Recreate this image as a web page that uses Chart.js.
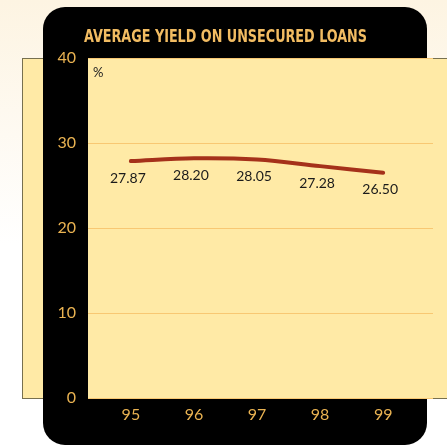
<!DOCTYPE html>
<html>
<head>
<meta charset="utf-8">
<script src="https://cdn.jsdelivr.net/npm/chart.js@4.4.0/dist/chart.umd.min.js"></script>
<style>
  html, body { margin: 0; padding: 0; background: #ffffff; }
  canvas { display: block; }
</style>
</head>
<body>
<canvas id="yieldChart" width="447" height="445"></canvas>
<script>
// Datos del gráfico
const years = [95, 96, 97, 98, 99];
const yieldValues = [27.87, 28.20, 28.05, 27.28, 26.50];
const valueLabels = ["27.87", "28.20", "28.05", "27.28", "26.50"];
const yTicks = [0, 10, 20, 30, 40];
const chartTitle = "AVERAGE YIELD ON UNSECURED LOANS";

const GOLD = "#eab352";
const PAPER = "#ffeaa6";

// Fondo, panel negro y zona amarilla del gráfico
const panelPlugin = {
    id: "panel",
    beforeDraw(chart) {
        const ctx = chart.ctx;
        const area = chart.chartArea;
        const W = chart.width, H = chart.height;
        ctx.save();

        // fondo crema que se aclara hacia abajo
        const bg = ctx.createLinearGradient(0, 0, 0, H);
        bg.addColorStop(0, "#fdf4e2");
        bg.addColorStop(0.55, "#ffffff");
        bg.addColorStop(1, "#ffffff");
        ctx.fillStyle = bg;
        ctx.fillRect(0, 0, W, H);

        // franja amarilla con borde gris detrás del panel
        ctx.fillStyle = PAPER;
        ctx.fillRect(22, area.top, W - 22, area.bottom - area.top);
        ctx.strokeStyle = "#77704f";
        ctx.lineWidth = 1;
        ctx.strokeRect(22.5, area.top + 0.5, W - 22, area.bottom - area.top);

        // panel negro redondeado
        ctx.fillStyle = "#000000";
        ctx.beginPath();
        ctx.roundRect(43, 7, 384, 438, 22);
        ctx.fill();

        // zona de trazado
        ctx.fillStyle = PAPER;
        ctx.fillRect(area.left, area.top, W - area.left, area.bottom - area.top);
        ctx.beginPath();
        ctx.moveTo(area.left, area.top + 0.5);
        ctx.lineTo(W, area.top + 0.5);
        ctx.moveTo(area.left, area.bottom + 0.5);
        ctx.lineTo(W, area.bottom + 0.5);
        ctx.stroke();

        // título
        ctx.fillStyle = "#f2bc62";
        ctx.font = "bold 18px 'DejaVu Sans Condensed', sans-serif";
        ctx.textBaseline = "alphabetic";
        ctx.textAlign = "left";
        ctx.fillText(chartTitle, 84, 42, 283);

        // unidad
        ctx.fillStyle = "#222222";
        ctx.font = "13px Lato, sans-serif";
        ctx.textBaseline = "middle";
        ctx.fillText("%", area.left + 5, area.top + 15);
        ctx.restore();
    }
};

// Etiquetas de valor debajo de la línea
const valueLabelPlugin = {
    id: "valueLabels",
    afterDatasetsDraw(chart) {
        const ctx = chart.ctx;
        const meta = chart.getDatasetMeta(0);
        ctx.save();
        ctx.fillStyle = "#1b1b1b";
        ctx.font = "14px Lato, sans-serif";
        ctx.textAlign = "center";
        ctx.textBaseline = "middle";
        meta.data.forEach((pt, i) => {
            ctx.fillText(valueLabels[i], pt.x - 3, pt.y + 17);
        });
        ctx.restore();
    }
};

const ctx = document.getElementById("yieldChart").getContext("2d");
const yieldChart = new Chart(ctx, {
    type: "line",
    data: {
        datasets: [{
            data: years.map((y, i) => ({ x: y, y: yieldValues[i] })),
            borderColor: "#a5311a",
            borderWidth: 4,
            borderCapStyle: "round",
            tension: 0.35,
            pointRadius: 0,
            fill: false
        }]
    },
    options: {
        responsive: false,
        animation: false,
        layout: { padding: { top: 58, right: 14, left: 0, bottom: 0 } },
        plugins: {
            legend: { display: false },
            tooltip: { enabled: false }
        },
        scales: {
            x: {
                type: "linear",
                min: 94.32,
                max: 99.79,
                grid: { display: false, drawTicks: false },
                border: { display: false },
                afterFit(scale) { scale.height = 47; },
                ticks: {
                    stepSize: 1,
                    includeBounds: false,
                    padding: 7,
                    color: GOLD,
                    font: { family: "Lato", size: 16 },
                    callback: v => (years.includes(v) ? String(v) : "")
                }
            },
            y: {
                min: 0,
                max: 40,
                afterFit(scale) { scale.width = 88; },
                afterBuildTicks(scale) { scale.ticks = yTicks.map(v => ({ value: v })); },
                grid: { color: "#f8c873", lineWidth: 1, drawTicks: false },
                border: { display: false },
                ticks: {
                    padding: 12,
                    color: GOLD,
                    font: { family: "Lato", size: 16 }
                }
            }
        }
    },
    plugins: [panelPlugin, valueLabelPlugin]
});
</script>
</body>
</html>
